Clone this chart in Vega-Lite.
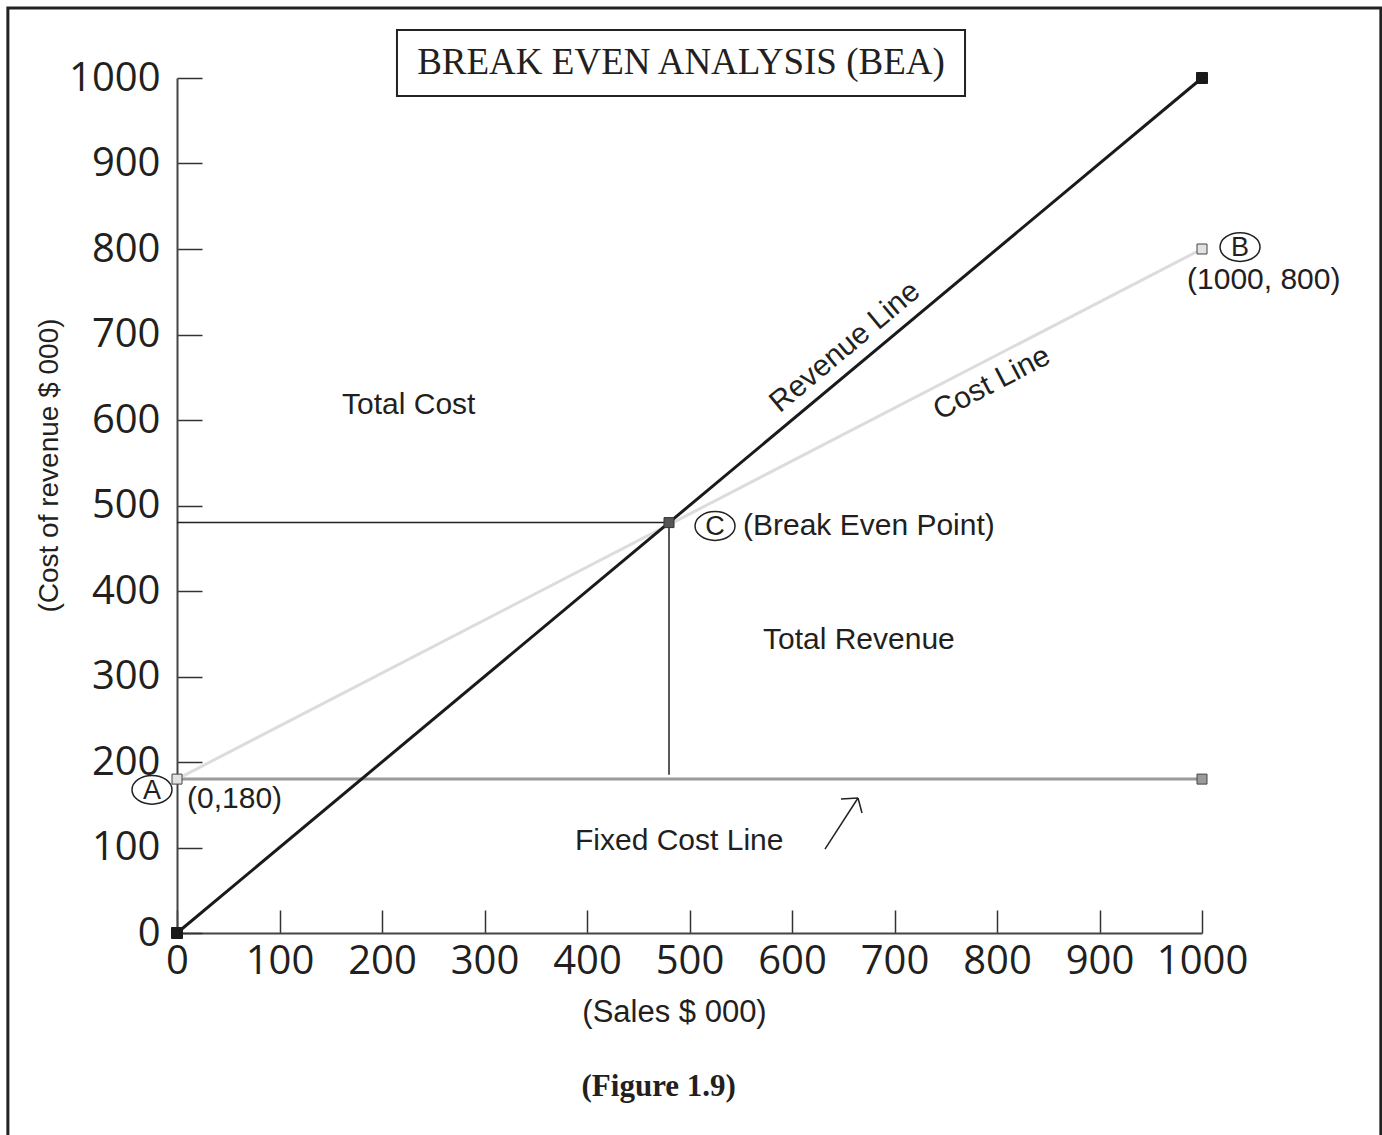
{
  "$schema": "https://vega.github.io/schema/vega-lite/v6.json",
  "width": 1025,
  "height": 855,
  "autosize": {"type": "none"},
  "padding": {"left": 177, "top": 78, "right": 180, "bottom": 202},
  "background": "white",
  "config": {
    "view": {"stroke": null},
    "axis": {"grid": false}
  },
  "encoding": {
    "x": {
      "field": "x", "type": "quantitative",
      "scale": {"domain": [0, 1000], "nice": false, "zero": false},
      "axis": {
        "values": [0, 100, 200, 300, 400, 500, 600, 700, 800, 900, 1000],
        "format": "d",
        "title": "(Sales $ 000)",
        "titleFont": "Liberation Sans", "titleFontSize": 31, "titleFontWeight": "normal", "titleColor": "#231f20",
        "titleX": 497, "titleY": 79, "titleBaseline": "middle", "titleAlign": "center",
        "labelFont": "Open Sans", "labelFontSize": 40, "labelColor": "#231f20", "labelPadding": 31,
        "labelFlush": false, "labelOverlap": false,
        "domainColor": "#444444", "domainWidth": 2,
        "tickColor": "#333333", "tickWidth": 1.5, "tickSize": -23
      }
    },
    "y": {
      "field": "y", "type": "quantitative",
      "scale": {"domain": [0, 1000], "nice": false, "zero": false},
      "axis": {
        "values": [0, 100, 200, 300, 400, 500, 600, 700, 800, 900, 1000],
        "format": "d",
        "title": "(Cost of revenue $ 000)",
        "titleFont": "Liberation Sans", "titleFontSize": 28, "titleFontWeight": "normal", "titleColor": "#231f20",
        "titleX": -128, "titleY": 387, "titleBaseline": "middle", "titleAlign": "center", "titleAngle": -90,
        "labelFont": "Open Sans", "labelFontSize": 40, "labelColor": "#231f20", "labelPadding": 42,
        "labelFlush": false, "labelOverlap": false,
        "domainColor": "#444444", "domainWidth": 2,
        "tickColor": "#333333", "tickWidth": 1.5, "tickSize": -25
      }
    }
  },
  "layer": [
    {
      "data": {"values": [{"x": -165, "y": 1082, "x2": 1174.5, "y2": -250}]},
      "mark": {"type": "rect", "fill": null, "fillOpacity": 0, "stroke": "#222222", "strokeWidth": 3},
      "encoding": {"x2": {"field": "x2"}, "y2": {"field": "y2"}}
    },
    {
      "data": {"values": [{"x": 214.6, "y": 1056.1, "x2": 768.8, "y2": 978.9}]},
      "mark": {"type": "rect", "fill": "white", "stroke": "#222222", "strokeWidth": 2},
      "encoding": {"x2": {"field": "x2"}, "y2": {"field": "y2"}}
    },
    {
      "data": {"values": [{"x": 491.7, "y": 1017.5, "label": "BREAK EVEN ANALYSIS (BEA)"}]},
      "mark": {"type": "text", "font": "Liberation Serif", "fontSize": 37, "color": "#231f20", "align": "center", "baseline": "middle"},
      "encoding": {"text": {"field": "label"}}
    },
    {
      "data": {"values": [{"x": 0, "y": 180, "x2": 1000, "y2": 180}]},
      "mark": {"type": "rule", "color": "#9a9a9a", "strokeWidth": 3},
      "encoding": {"x2": {"field": "x2"}, "y2": {"field": "y2"}}
    },
    {
      "data": {"values": [{"x": 0, "y": 180, "x2": 1000, "y2": 800}]},
      "mark": {"type": "rule", "color": "#dcdcdc", "strokeWidth": 3},
      "encoding": {"x2": {"field": "x2"}, "y2": {"field": "y2"}}
    },
    {
      "data": {"values": [{"x": 0, "y": 0, "x2": 1000, "y2": 1000}]},
      "mark": {"type": "rule", "color": "#1a1a1a", "strokeWidth": 3},
      "encoding": {"x2": {"field": "x2"}, "y2": {"field": "y2"}}
    },
    {
      "data": {"values": [
        {"x": 0, "y": 480, "x2": 480, "y2": 480},
        {"x": 480, "y": 480, "x2": 480, "y2": 185},
        {"x": 632.2, "y": 98.2, "x2": 664.4, "y2": 157.9},
        {"x": 664.4, "y": 157.9, "x2": 647.8, "y2": 156.7},
        {"x": 664.4, "y": 157.9, "x2": 668.3, "y2": 140.4}
      ]},
      "mark": {"type": "rule", "color": "#222222", "strokeWidth": 1.5},
      "encoding": {"x2": {"field": "x2"}, "y2": {"field": "y2"}}
    },
    {
      "data": {"values": [{"x": 0, "y": 0}, {"x": 1000, "y": 1000}]},
      "mark": {"type": "point", "shape": "square", "size": 121, "filled": true, "fill": "#1a1a1a", "stroke": "#1a1a1a", "strokeWidth": 1, "opacity": 1}
    },
    {
      "data": {"values": [{"x": 0, "y": 180}, {"x": 1000, "y": 800}]},
      "mark": {"type": "point", "shape": "square", "size": 100, "filled": true, "fill": "#e2e2e2", "stroke": "#444444", "strokeWidth": 1, "opacity": 1}
    },
    {
      "data": {"values": [{"x": 1000, "y": 180}]},
      "mark": {"type": "point", "shape": "square", "size": 100, "filled": true, "fill": "#9a9a9a", "stroke": "#444444", "strokeWidth": 1, "opacity": 1}
    },
    {
      "data": {"values": [{"x": 480, "y": 480}]},
      "mark": {"type": "point", "shape": "square", "size": 100, "filled": true, "fill": "#555555", "stroke": "#333333", "strokeWidth": 1, "opacity": 1}
    },
    {
      "data": {"values": [{"x": -24.4, "y": 167.5}, {"x": 1037.1, "y": 802.3}, {"x": 524.9, "y": 476.0}]},
      "mark": {"type": "point", "shape": "M-1,0 A1,0.72 0 1,1 1,0 A1,0.72 0 1,1 -1,0 Z", "size": 1600, "filled": false, "stroke": "#222222", "strokeWidth": 1.5, "opacity": 1}
    },
    {
      "data": {"values": [
        {"x": -24.4, "y": 167.5, "label": "A"},
        {"x": 1037.1, "y": 802.3, "label": "B"},
        {"x": 524.9, "y": 476.0, "label": "C"}
      ]},
      "mark": {"type": "text", "font": "Liberation Sans", "fontSize": 27, "color": "#231f20", "align": "center", "baseline": "middle", "dy": 1},
      "encoding": {"text": {"field": "label"}}
    },
    {
      "data": {"values": [
        {"x": 161, "y": 607, "label": "Total Cost"},
        {"x": 571.7, "y": 332.2, "label": "Total Revenue"},
        {"x": 388.3, "y": 97.1, "label": "Fixed Cost Line"},
        {"x": 9.8, "y": 146.2, "label": "(0,180)"},
        {"x": 985.4, "y": 753.2, "label": "(1000, 800)"},
        {"x": 552.2, "y": 465.5, "label": "(Break Even Point)"}
      ]},
      "mark": {"type": "text", "font": "Liberation Sans", "fontSize": 30, "color": "#231f20", "align": "left", "baseline": "alphabetic"},
      "encoding": {"text": {"field": "label"}}
    },
    {
      "data": {"values": [{"x": 651.7, "y": 685.4, "label": "Revenue Line"}]},
      "mark": {"type": "text", "font": "Liberation Sans", "fontSize": 30, "color": "#231f20", "align": "center", "baseline": "middle", "angle": -40},
      "encoding": {"text": {"field": "label"}}
    },
    {
      "data": {"values": [{"x": 795, "y": 643, "label": "Cost Line"}]},
      "mark": {"type": "text", "font": "Liberation Sans", "fontSize": 30, "color": "#231f20", "align": "center", "baseline": "middle", "angle": -27.5},
      "encoding": {"text": {"field": "label"}}
    },
    {
      "data": {"values": [{"x": 470, "y": -180, "label": "(Figure 1.9)"}]},
      "mark": {"type": "text", "font": "Liberation Serif", "fontSize": 31, "fontWeight": "bold", "color": "#231f20", "align": "center", "baseline": "middle"},
      "encoding": {"text": {"field": "label"}}
    }
  ]
}
